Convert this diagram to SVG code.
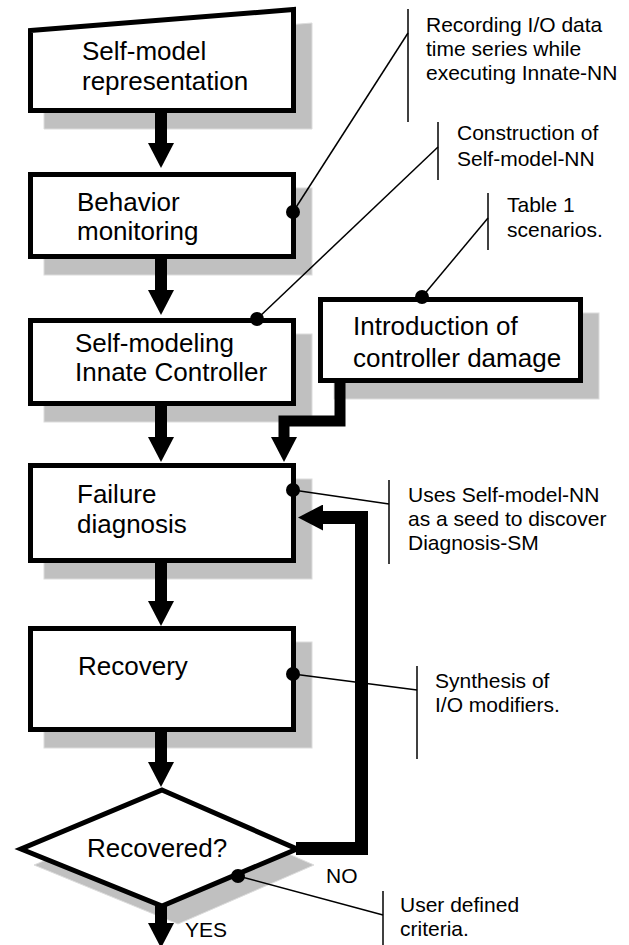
<svg xmlns="http://www.w3.org/2000/svg" width="629" height="945" viewBox="0 0 629 945">
<style>
.shadow{fill:#c0c0c0;stroke:#dcdcdc;stroke-width:1}
.box{fill:#fff;stroke:#000;stroke-width:5;stroke-linejoin:miter}
.lbl{font-family:"Liberation Sans",Arial,sans-serif;font-size:26px;fill:#000}
.ann{font-family:"Liberation Sans",Arial,sans-serif;font-size:21px;fill:#000}
.flow{fill:none;stroke:#000;stroke-linejoin:miter}
.lead{fill:none;stroke:#000;stroke-width:1.5}
.dot{fill:#000}
</style>
<defs>
<marker id="ah" markerUnits="userSpaceOnUse" viewBox="0 0 25 26" markerWidth="25" markerHeight="26" refX="0" refY="13" orient="auto">
<path d="M0,0 L25,13 L0,26 z" fill="#000"/>
</marker>
</defs>
<rect width="629" height="945" fill="#fff"/>
<g id="shadows">
<polygon class="shadow" points="44,44 312,23 312,129 44,129"/>
<rect class="shadow" x="44" y="188" width="268" height="87"/>
<rect class="shadow" x="44" y="334" width="268" height="88"/>
<rect class="shadow" x="334" y="313" width="265" height="86"/>
<rect class="shadow" x="44" y="479" width="268" height="100"/>
<rect class="shadow" x="44" y="642" width="268" height="106"/>
<polygon class="shadow" points="178,806 314,865 178,924 34,865"/>
</g>
<g id="connectors">
<line class="flow" stroke-width="12" x1="161" y1="111" x2="161" y2="143" marker-end="url(#ah)"/>
<line class="flow" stroke-width="12" x1="161" y1="257" x2="161" y2="290" marker-end="url(#ah)"/>
<line class="flow" stroke-width="12" x1="161" y1="404" x2="161" y2="437" marker-end="url(#ah)"/>
<polyline class="flow" stroke-width="11" points="340,381 340,421 284,421 284,437" marker-end="url(#ah)"/>
<line class="flow" stroke-width="12" x1="161" y1="561" x2="161" y2="601" marker-end="url(#ah)"/>
<line class="flow" stroke-width="12" x1="161" y1="730" x2="161" y2="762" marker-end="url(#ah)"/>
<line class="flow" stroke-width="12" x1="161" y1="906" x2="161" y2="923" marker-end="url(#ah)"/>
<polyline class="flow" stroke-width="13" points="296,848.5 361.5,848.5 361.5,517.5 323,517.5" marker-end="url(#ah)"/>
<text class="ann" x="326" y="883">NO</text>
<text class="ann" x="185" y="937">YES</text>
</g>
<g id="n1">
<polygon class="box" points="30.5,30.5 293.5,9.5 293.5,110.5 30.5,110.5"/>
<text class="lbl" x="82" y="60">Self-model</text>
<text class="lbl" x="82" y="90">representation</text>
</g>
<g id="n2">
<rect class="box" x="30.5" y="174.5" width="263" height="82"/>
<text class="lbl" x="77" y="211">Behavior</text>
<text class="lbl" x="77" y="240">monitoring</text>
</g>
<g id="n3">
<rect class="box" x="30.5" y="320.5" width="263" height="83"/>
<text class="lbl" x="75" y="352">Self-modeling</text>
<text class="lbl" x="75" y="381">Innate Controller</text>
</g>
<g id="n4">
<rect class="box" x="320.5" y="299.5" width="260" height="81"/>
<text class="lbl" x="353" y="335">Introduction of</text>
<text class="lbl" x="353" y="367">controller damage</text>
</g>
<g id="n5">
<rect class="box" x="30.5" y="465.5" width="263" height="95"/>
<text class="lbl" x="77" y="503">Failure</text>
<text class="lbl" x="77" y="533">diagnosis</text>
</g>
<g id="n6">
<rect class="box" x="30.5" y="628.5" width="263" height="101"/>
<text class="lbl" x="78" y="675">Recovery</text>
</g>
<g id="n7">
<polygon class="box" points="162,790 297,849 162,906 21,849"/>
<text class="lbl" x="87" y="857">Recovered?</text>
</g>
<g id="a1">
<line class="lead" x1="293" y1="212" x2="408" y2="33"/>
<line class="lead" x1="408" y1="9" x2="408" y2="122"/>
<circle class="dot" cx="293" cy="212" r="7"/>
<text class="ann" x="426" y="32">Recording I/O data</text>
<text class="ann" x="426" y="56">time series while</text>
<text class="ann" x="426" y="80">executing Innate-NN</text>
</g>
<g id="a2">
<line class="lead" x1="257" y1="319" x2="438" y2="147"/>
<line class="lead" x1="438" y1="122" x2="438" y2="180"/>
<circle class="dot" cx="257" cy="319" r="7"/>
<text class="ann" x="457" y="140">Construction of</text>
<text class="ann" x="457" y="166">Self-model-NN</text>
</g>
<g id="a3">
<line class="lead" x1="422" y1="297" x2="488" y2="218"/>
<line class="lead" x1="488" y1="193" x2="488" y2="250"/>
<circle class="dot" cx="422" cy="297" r="7"/>
<text class="ann" x="507" y="212">Table 1</text>
<text class="ann" x="507" y="237">scenarios.</text>
</g>
<g id="a4">
<line class="lead" x1="293" y1="490" x2="389" y2="504"/>
<line class="lead" x1="389" y1="480" x2="389" y2="564"/>
<circle class="dot" cx="293" cy="490" r="7"/>
<text class="ann" x="408" y="502">Uses Self-model-NN</text>
<text class="ann" x="408" y="526">as a seed to discover</text>
<text class="ann" x="408" y="550">Diagnosis-SM</text>
</g>
<g id="a5">
<line class="lead" x1="293" y1="674" x2="417" y2="690"/>
<line class="lead" x1="417" y1="666" x2="417" y2="759"/>
<circle class="dot" cx="293" cy="674" r="7"/>
<text class="ann" x="435" y="688">Synthesis of</text>
<text class="ann" x="435" y="712">I/O modifiers.</text>
</g>
<g id="a6">
<line class="lead" x1="238" y1="876" x2="383" y2="915"/>
<line class="lead" x1="383" y1="891" x2="383" y2="945"/>
<circle class="dot" cx="238" cy="876" r="7"/>
<text class="ann" x="400" y="912">User defined</text>
<text class="ann" x="400" y="936">criteria.</text>
</g>
</svg>
